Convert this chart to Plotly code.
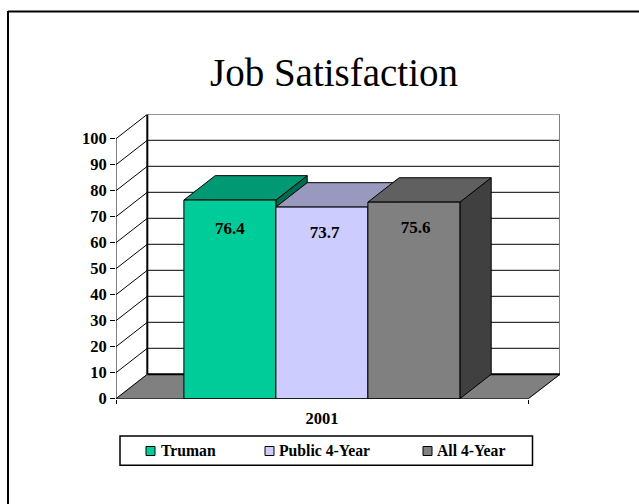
import plotly.graph_objects as go

# Chart content
series_names = ["Truman", "Public 4-Year", "All 4-Year"]
series_values = [76.4, 73.7, 75.6]
category_label = "2001"
y_ticks = [0, 10, 20, 30, 40, 50, 60, 70, 80, 90, 100]

front_colors = ["#00CC99", "#CCCCFF", "#808080"]
top_colors = ["#009973", "#9999BF", "#606060"]
side_colors = ["#006B50", "#6B6B86", "#404040"]

W, H = 639, 504
FONT = "Liberation Serif"

# Oblique projection: depth offset expressed in axis units
PX_PER_X = 92.0
PX_PER_Y = 2.6
CENTER_PX = 321.9
LEFT_PX, RIGHT_PX, FRONT_RIGHT_PX = 116.0, 560.0, 528.3
BOTTOM_PX, TOP_PX = 398.7, 114.5
DX = 31.3 / PX_PER_X
DY = 24.4 / PX_PER_Y

x_min = (LEFT_PX - CENTER_PX) / PX_PER_X
x_max = (RIGHT_PX - CENTER_PX) / PX_PER_X
x_front_end = (FRONT_RIGHT_PX - CENTER_PX) / PX_PER_X
y_max = (BOTTOM_PX - TOP_PX) / PX_PER_Y
positions = [-1, 0, 1]


def poly(xs, ys, fill, line="#000000", width=1):
    return go.Scatter(
        x=xs + xs[:1], y=ys + ys[:1], mode="lines", fill="toself", fillcolor=fill,
        line=dict(color=line, width=width), hoverinfo="skip", showlegend=False,
        cliponaxis=False,
    )


def path(xs, ys, color="#000000", width=1):
    return go.Scatter(
        x=xs, y=ys, mode="lines", line=dict(color=color, width=width),
        hoverinfo="skip", showlegend=False, cliponaxis=False, connectgaps=False,
    )


fig = go.Figure()

# Floor of the 3D box
fig.add_trace(poly([x_min, x_min + DX, x_max, x_front_end], [0, DY, DY, 0], "#808080", "#808080"))

# Gridlines: along the back wall, then down the left side wall
grid_x, grid_y = [], []
for t in y_ticks[1:]:
    grid_x += [x_min, x_min + DX, x_max, None]
    grid_y += [t, t + DY, t + DY, None]
fig.add_trace(path(grid_x, grid_y, "#000000", 1))

# Box edges
fig.add_trace(path([x_min + DX, x_min + DX], [DY, 100 + DY], "#000000", 2))
fig.add_trace(path([x_max, x_max], [DY, 100 + DY], "#808080", 2))
fig.add_trace(path([x_min + DX, x_max], [DY, DY], "#000000", 2))
fig.add_trace(path([x_min, x_min + DX], [0, DY], "#000000", 1))
fig.add_trace(path([x_max, x_front_end], [DY, 0], "#000000", 1))
fig.add_trace(path([x_min, x_min], [0, 100], "#000000", 1))

# Side and top faces of each bar, left to right so later bars occlude earlier ones
for u, v, top, side in zip(positions, series_values, top_colors, side_colors):
    left, right = u - 0.5, u + 0.5
    fig.add_trace(poly([right, right + DX, right + DX, right], [0, DY, v + DY, v], side))
    fig.add_trace(poly([left, right, right + DX, left + DX], [v, v, v + DY, v + DY], top))

# Front faces sit on an overlaid axis pair so they cover the neighbouring side faces
fig.add_trace(go.Bar(
    x=positions, y=series_values, width=1, xaxis="x2", yaxis="y2",
    marker=dict(color=front_colors, line=dict(color="#000000", width=1)),
    hoverinfo="skip", showlegend=False,
))
fig.add_trace(go.Scatter(
    x=[u + s for u, s in zip(positions, [0.0, 0.03, 0.02])],
    y=[v - s for v, s in zip(series_values, [11.4, 10.4, 10.4])],
    text=[f"{v:.1f}" for v in series_values], mode="text", xaxis="x2", yaxis="y2",
    textfont=dict(family=FONT, size=17, color="#000000", weight=700),
    hoverinfo="skip", showlegend=False,
))
fig.add_trace(path([x_min, x_front_end], [0, 0], "#000000", 1))
fig.data[-1].update(xaxis="x2", yaxis="y2")

domain_x = [LEFT_PX / W, RIGHT_PX / W]
domain_y = [1 - BOTTOM_PX / H, 1 - TOP_PX / H]
shapes, annotations = [], []


def px_x(p):
    return p / W


def px_y(p):
    return 1 - p / H


# Slide frame: top and left rules only
shapes.append(dict(type="line", xref="paper", yref="paper", x0=px_x(8), x1=1,
                   y0=px_y(11.5), y1=px_y(11.5), line=dict(color="#000000", width=2)))
shapes.append(dict(type="line", xref="paper", yref="paper", x0=px_x(8), x1=px_x(8),
                   y0=px_y(11), y1=0, line=dict(color="#000000", width=2)))

# Legend panel
shapes.append(dict(type="rect", xref="paper", yref="paper", x0=px_x(120), x1=px_x(532.5),
                   y0=px_y(465.3), y1=px_y(436), line=dict(color="#000000", width=1.5),
                   fillcolor="#FFFFFF"))
for name, color, mx, tx in zip(series_names, front_colors, [146, 265, 423], [158.5, 276.5, 434.5]):
    shapes.append(dict(type="rect", xref="paper", yref="paper", x0=px_x(mx), x1=px_x(mx + 9),
                       y0=px_y(455.5), y1=px_y(446.5), fillcolor=color,
                       line=dict(color="#000000", width=1)))
    annotations.append(dict(xref="paper", yref="paper", x=px_x(tx), y=px_y(450.5),
                            xanchor="left", yanchor="middle", text=name, showarrow=False,
                            font=dict(family=FONT, size=15.7, color="#000000", weight=700)))

fig.update_layout(
    width=W, height=H, margin=dict(l=0, r=0, t=0, b=0, autoexpand=False),
    paper_bgcolor="#FFFFFF", plot_bgcolor="rgba(0,0,0,0)", showlegend=False,
    shapes=shapes, annotations=annotations,
    title=dict(text="Job Satisfaction", x=334 / W, xanchor="center", y=px_y(72), yanchor="middle",
               font=dict(family=FONT, size=39, color="#000000")),
    xaxis=dict(domain=domain_x, range=[x_min, x_max], showgrid=False, zeroline=False, showline=False,
               automargin=False,
               tickmode="array", tickvals=[0], ticktext=[category_label], ticks="", ticklabelstandoff=8,
               tickfont=dict(family=FONT, size=16.5, color="#000000", weight=700),
               minor=dict(tickmode="array", tickvals=[x_min, x_front_end], ticks="outside",
                          ticklen=4, tickcolor="#000000", tickwidth=1, showgrid=False)),
    yaxis=dict(domain=domain_y, range=[0, y_max], showgrid=False, zeroline=False, showline=False,
               automargin=False,
               tickmode="array", tickvals=y_ticks, ticks="outside", ticklen=5, tickcolor="#000000",
               tickwidth=1, tickfont=dict(family=FONT, size=16.5, color="#000000", weight=700)),
    xaxis2=dict(domain=domain_x, range=[x_min, x_max], overlaying="x", anchor="y2", visible=False),
    yaxis2=dict(domain=domain_y, range=[0, y_max], overlaying="y", anchor="x2", visible=False),
)

fig.write_html("out.html")
